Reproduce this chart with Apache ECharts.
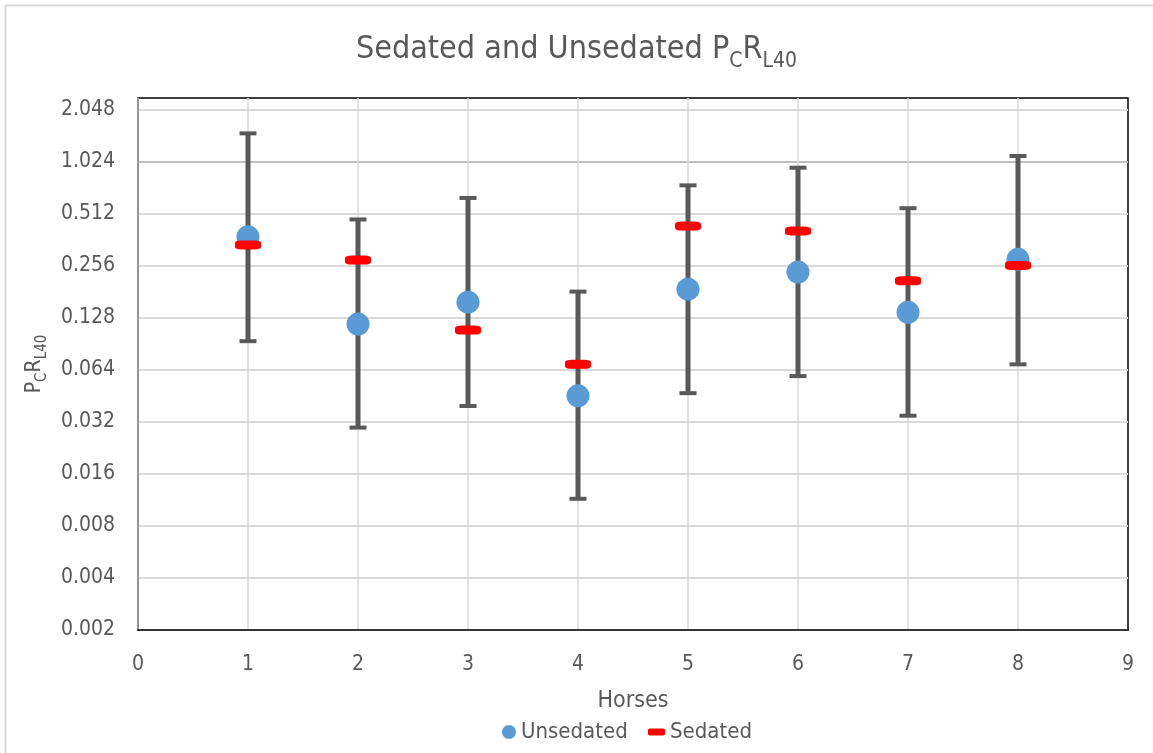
<!DOCTYPE html>
<html>
<head>
<meta charset="utf-8">
<script src="https://cdn.jsdelivr.net/npm/echarts@6/dist/echarts.min.js"></script>
<style>
html,body{margin:0;padding:0;background:#fff;}
#c{width:1153px;height:753px;}
</style>
</head>
<body>
<div id="c"></div>
<script>
// ---- data (values in original units) ----
const horses = [1, 2, 3, 4, 5, 6, 7, 8];
const unsedated = [0.378, 0.118, 0.158, 0.0454, 0.188, 0.236, 0.138, 0.280];
const sedated   = [0.339, 0.277, 0.109, 0.069, 0.436, 0.408, 0.210, 0.258];
const errLow    = [0.094, 0.0297, 0.0396, 0.0115, 0.047, 0.059, 0.0348, 0.069];
const errHigh   = [1.50, 0.476, 0.634, 0.182, 0.750, 0.949, 0.553, 1.109];
const yTickLabels = ['0.002','0.004','0.008','0.016','0.032','0.064','0.128','0.256','0.512','1.024','2.048'];
const xTickLabels = ['0','1','2','3','4','5','6','7','8','9'];

// log base-2 axis starting at 0.002
const BASE = 0.002;
const ly = v => Math.log2(v / BASE);

const FONT = "'Liberation Sans Narrow','DejaVu Sans Condensed','Open Sans',sans-serif";
const TXT = '#595959';

const splitColors = [];
for (let i = 0; i < 12; i++) splitColors.push(i === 9 ? '#bfbfbf' : '#d9d9d9');

const chart = echarts.init(document.getElementById('c'), null, {renderer: 'canvas'});
chart.setOption({
  backgroundColor: '#fff',
  animation: false,
  textStyle: {fontFamily: FONT},
  title: {
    left: 'center',
    top: 23,
    text: '{a|Sedated and Unsedated P}{s|C}{a|R}{s|L40}',
    textStyle: {
      fontWeight: 'normal',
      rich: {
        a: {fontFamily: FONT, fontWeight: 'normal', fontSize: 32, color: TXT, lineHeight: 38, verticalAlign: 'bottom'},
        s: {fontFamily: FONT, fontWeight: 'normal', fontSize: 21, color: TXT, lineHeight: 21, verticalAlign: 'bottom', padding: [0, 0, -6, 0]}
      }
    }
  },
  graphic: [{
    type: 'rect', silent: true, z: -10,
    shape: {x: 5.5, y: 5.5, width: 1160, height: 760},
    style: {fill: 'none', stroke: '#d9d9d9', lineWidth: 2}
  }],
  legend: [{
    data: [{name: 'Unsedated', icon: 'circle'}],
    left: 502, top: 721, padding: 0,
    itemWidth: 14, itemHeight: 14, itemGap: 5,
    textStyle: {fontFamily: FONT, fontSize: 22, lineHeight: 22, color: TXT}
  }, {
    data: [{name: 'Sedated', icon: 'roundRect'}],
    left: 648, top: 721, padding: 0,
    itemWidth: 17, itemHeight: 7, itemGap: 5,
    textStyle: {fontFamily: FONT, fontSize: 22, lineHeight: 22, color: TXT}
  }],
  grid: {
    left: 138, right: 25, top: 98, bottom: 123,
    show: true, borderColor: '#000', borderWidth: 1.5
  },
  xAxis: {
    type: 'value', min: 0, max: 9, interval: 1,
    name: 'Horses', nameLocation: 'middle', nameGap: 60,
    nameTextStyle: {fontFamily: FONT, fontSize: 23, color: TXT},
    axisLine: {show: true, lineStyle: {color: '#000', width: 1.5}},
    axisTick: {show: false},
    axisLabel: {fontFamily: FONT, fontSize: 21, color: TXT, margin: 24,
      formatter: v => xTickLabels[v] !== undefined && Number.isInteger(v) ? xTickLabels[v] : ''},
    splitLine: {show: true, showMaxLine: false, lineStyle: {color: '#d9d9d9', width: 1.5}}
  },
  yAxis: {
    type: 'value', min: 0, max: 10 + 12 / 52, interval: 1,
    name: '{a|P}{s|C}{a|R}{s|L40}', nameLocation: 'middle', nameGap: 89, nameRotate: 90,
    nameTextStyle: {
      rich: {
        a: {fontFamily: FONT, fontSize: 21, color: TXT, lineHeight: 26, verticalAlign: 'bottom'},
        s: {fontFamily: FONT, fontSize: 15, color: TXT, lineHeight: 15, verticalAlign: 'bottom', padding: [0, 0, -5, 0]}
      }
    },
    axisLine: {show: true, lineStyle: {color: '#8c8c8c', width: 1.5}},
    axisTick: {show: false},
    axisLabel: {fontFamily: FONT, fontSize: 21, color: TXT, margin: 23,
      formatter: v => Number.isInteger(v) && yTickLabels[v] !== undefined ? yTickLabels[v] : ''},
    splitLine: {show: true, showMaxLine: false, lineStyle: {color: splitColors, width: 2}}
  },
  series: [{
    type: 'custom',
    name: 'err',
    data: horses.map((h, i) => [h, ly(errLow[i]), ly(errHigh[i])]),
    encode: {x: 0, y: [1, 2]},
    z: 2,
    renderItem: function (params, api) {
      const lo = api.coord([api.value(0), api.value(1)]);
      const hi = api.coord([api.value(0), api.value(2)]);
      const cw = 8.5;
      const st = {stroke: '#595959', lineWidth: 5};
      const cs = {stroke: '#595959', lineWidth: 4};
      return {
        type: 'group',
        children: [
          {type: 'line', shape: {x1: lo[0], y1: lo[1], x2: hi[0], y2: hi[1]}, style: st},
          {type: 'line', shape: {x1: hi[0] - cw, y1: hi[1], x2: hi[0] + cw, y2: hi[1]}, style: cs},
          {type: 'line', shape: {x1: lo[0] - cw, y1: lo[1], x2: lo[0] + cw, y2: lo[1]}, style: cs}
        ]
      };
    }
  }, {
    type: 'scatter',
    name: 'Unsedated',
    data: horses.map((h, i) => [h, ly(unsedated[i])]),
    symbol: 'circle', symbolSize: 23,
    itemStyle: {color: '#5B9BD5', opacity: 1},
    z: 3
  }, {
    type: 'scatter',
    name: 'Sedated',
    data: horses.map((h, i) => [h, ly(sedated[i])]),
    symbol: 'roundRect', symbolSize: [26, 9],
    itemStyle: {color: '#FF0000', opacity: 1},
    z: 4
  }]
});
</script>
</body>
</html>
